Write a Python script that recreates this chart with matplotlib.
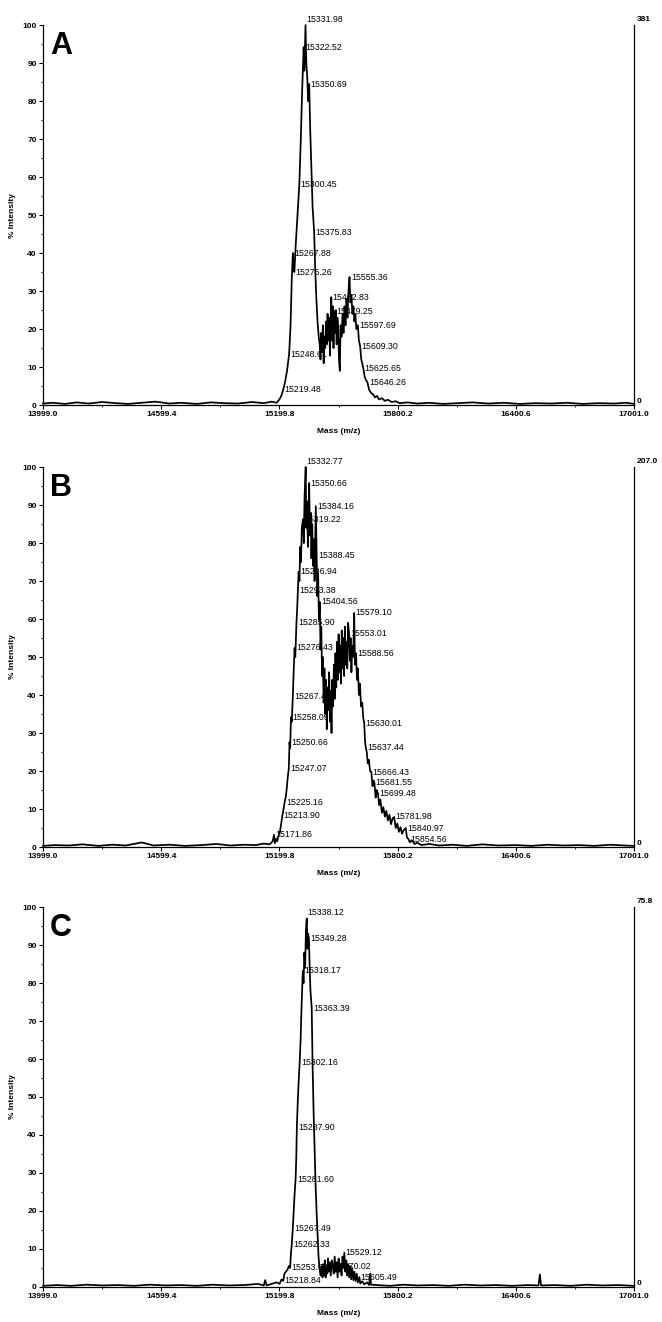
import numpy as np
import matplotlib.pyplot as plt

plt.rcParams['font.family'] = ['Liberation Sans', 'DejaVu Sans']

x_ticks = [13999.0, 14599.4, 15199.8, 15800.2, 16400.6, 17001.0]
y_ticks = [0, 10, 20, 30, 40, 50, 60, 70, 80, 90, 100]

# Spectrum A
mass_a = [13999, 14050, 14110, 14170, 14230, 14300, 14370, 14430, 14500, 14570, 14640, 14700,
          14780, 14850, 14920, 14990, 15060, 15120, 15160, 15185, 15195,
          15203, 15210, 15219.48, 15228, 15238, 15248.61, 15256, 15262, 15267.88, 15271, 15275.26,
          15282, 15290, 15300.45, 15308, 15315, 15322.52, 15326, 15331.98, 15336, 15341, 15345,
          15350.69, 15356, 15362, 15368, 15375.83, 15381, 15387, 15393, 15399,
          15404, 15408, 15412, 15416, 15420, 15424, 15428, 15432, 15436, 15440, 15444, 15448,
          15452, 15456, 15462.83, 15466, 15470, 15474, 15479.25, 15482, 15486, 15490, 15494,
          15498, 15502, 15506, 15510, 15515, 15520, 15525, 15530, 15535, 15540, 15545, 15550,
          15555.36, 15560, 15565, 15570, 15575, 15580, 15585, 15590, 15597.69, 15603, 15609.30,
          15615, 15620, 15625.65, 15632, 15640, 15646.26, 15655, 15665, 15675, 15685, 15695,
          15705, 15720, 15735, 15750, 15770, 15790, 15810, 15850, 15900, 15960, 16030, 16100,
          16180, 16260, 16340, 16420, 16500, 16580, 16660, 16740, 16820, 16900, 16960, 17001]
int_a = [0.4, 0.6, 0.3, 0.7, 0.4, 0.8, 0.5, 0.3, 0.6, 0.9, 0.4, 0.6,
         0.3, 0.7, 0.5, 0.4, 0.8, 0.5, 0.9, 0.6, 1.2,
         1.8, 2.6, 4.2, 6.0, 9.0, 13.4, 21.0, 33.0, 40.0, 37.0, 35.0,
         42.0, 49.0, 58.0, 70.0, 83.0, 94.2, 88.0, 100.0, 90.0, 86.0, 80.0,
         84.5, 72.0, 62.0, 52.0, 45.5, 36.0, 28.0, 22.0, 18.0,
         16.0, 12.0, 19.0, 14.0, 21.0, 11.0, 18.0, 15.0, 22.0, 16.0, 24.0, 17.0,
         23.0, 13.0, 28.4, 17.0, 26.0, 15.0, 24.7, 19.0, 25.0, 16.0, 23.0,
         20.0, 12.0, 9.0, 21.0, 18.0, 24.0, 19.0, 26.0, 21.0, 28.0, 23.0, 30.0,
         33.7, 27.0, 29.0, 24.0, 26.0, 22.0, 24.0, 20.0, 21.0, 17.0, 15.5,
         12.0, 11.0, 9.7, 7.5, 6.5, 6.0, 4.0, 3.2, 2.8, 2.0, 2.4,
         1.5, 1.8, 1.1, 1.4, 0.8, 1.0, 0.5, 0.7, 0.4, 0.6, 0.3, 0.5,
         0.7, 0.4, 0.6, 0.3, 0.5, 0.4, 0.6, 0.3, 0.5, 0.4, 0.6, 0.3]
peaks_a = [15331.98, 15322.52, 15350.69, 15300.45, 15375.83, 15267.88, 15275.26, 15462.83,
           15555.36, 15479.25, 15597.69, 15609.30, 15248.61, 15625.65, 15646.26, 15219.48]

# Spectrum B
mass_b = [13999, 14060, 14130, 14200, 14280, 14350, 14420, 14500, 14560, 14640, 14720, 14800,
          14880, 14950, 15020, 15080, 15120, 15150, 15165, 15171.86, 15176, 15182, 15188, 15195,
          15202, 15208, 15213.90, 15219, 15225.16, 15231, 15236, 15241, 15247.07, 15250.66, 15254,
          15258.09, 15262, 15267.41, 15271, 15276.43, 15280, 15285.90, 15289, 15293.38, 15296.94,
          15301, 15305, 15309, 15313, 15319.22, 15323, 15327, 15332.77, 15336, 15340, 15344,
          15350.66, 15354, 15358, 15362, 15366, 15370, 15374, 15378, 15384.16, 15388.45, 15392,
          15396, 15400, 15404.56, 15408, 15412,
          15416, 15420, 15424, 15428, 15432, 15436, 15440, 15444, 15448, 15452,
          15456, 15460, 15464, 15468, 15472, 15476, 15480, 15484, 15488, 15492,
          15496, 15500, 15504, 15508, 15512, 15516, 15520, 15524, 15528, 15532,
          15536, 15540, 15544, 15548,
          15553.01, 15557, 15561, 15565, 15569, 15574, 15579.10, 15583, 15588.56, 15593, 15598,
          15603, 15608, 15614, 15620, 15625, 15630.01, 15634, 15637.44, 15643, 15648, 15653,
          15660, 15666.43, 15672, 15677, 15681.55, 15688, 15693, 15699.48, 15706, 15712, 15720,
          15727, 15735, 15742, 15750, 15758, 15766, 15774, 15781.98, 15790, 15798, 15806, 15814,
          15822, 15830, 15840.97, 15847, 15854.56, 15862, 15872, 15885, 15900, 15920, 15960,
          16010, 16080, 16150, 16230, 16310, 16400, 16480, 16560, 16640, 16720, 16800, 16880,
          16950, 17001]
int_b = [0.3, 0.5, 0.4, 0.7, 0.3, 0.6, 0.4, 1.2, 0.4, 0.6, 0.3, 0.5,
         0.8, 0.4, 0.6, 0.5, 0.9, 0.7, 1.5, 3.2, 1.0, 2.2, 1.5, 3.0,
         4.0, 6.0, 8.2, 9.5, 11.6, 13.0, 15.0, 18.0, 20.7, 27.6, 26.0,
         34.2, 33.0, 39.5, 45.0, 52.4, 50.0, 59.0, 62.0, 67.6, 72.4,
         70.0, 79.0, 75.0, 84.0, 86.3, 80.0, 92.0, 100.0, 84.0, 91.0, 79.0,
         95.8, 82.0, 88.0, 76.0, 85.0, 74.0, 81.0, 70.0, 89.7, 76.8, 66.0,
         72.0, 60.0, 64.5, 52.0, 58.0,
         45, 50, 38, 47, 35, 44, 31, 42, 36, 46,
         33, 41, 30, 44, 37, 48, 39, 51, 42, 54,
         44, 56, 46, 53, 43, 57, 47, 55, 45, 58,
         48, 54, 47, 59,
         56.3, 49, 55, 46, 53, 50, 61.6, 48, 51.0, 44, 47,
         40, 43, 37, 38, 34, 32.6, 28, 26.3, 25, 22, 23,
         20, 19.7, 16, 17.5, 17.0, 13, 15, 14.2, 11, 12.5, 9,
         10.5, 8, 9.5, 7, 8.5, 6, 7.5, 7.9, 5, 6.2, 4, 5.2,
         3.5, 4.4, 5.0, 2.5, 2.1, 1.2, 1.8, 0.8, 1.1, 0.5, 0.8,
         0.4, 0.6, 0.3, 0.7, 0.4, 0.5, 0.3, 0.6, 0.4, 0.5, 0.3, 0.6,
         0.4, 0.3]
peaks_b = [15332.77, 15350.66, 15384.16, 15319.22, 15388.45, 15296.94, 15293.38, 15404.56,
           15285.90, 15276.43, 15579.10, 15553.01, 15588.56, 15267.41, 15258.09, 15250.66,
           15247.07, 15225.16, 15213.90, 15171.86, 15630.01, 15637.44, 15666.43, 15681.55,
           15699.48, 15781.98, 15840.97, 15854.56]

# Spectrum C
mass_c = [13999, 14070, 14140, 14220, 14300, 14380, 14460, 14540, 14620, 14700, 14780, 14860,
          14940, 15020, 15090, 15120, 15127, 15134, 15160, 15185, 15200, 15210, 15218.84, 15225,
          15232, 15240, 15247, 15253.62, 15258, 15262.33, 15267.49, 15272, 15276, 15281.60,
          15285, 15287.90, 15292, 15297, 15302.16, 15307, 15312, 15318.17, 15322, 15326, 15330,
          15334, 15338.12, 15342, 15345, 15349.28, 15353, 15357, 15363.39, 15368, 15373, 15378,
          15383, 15388, 15393, 15398, 15403, 15408, 15414, 15418, 15422, 15426, 15430, 15434,
          15438, 15442, 15446, 15450, 15455, 15460, 15465, 15470.02, 15475, 15480, 15485, 15490,
          15495, 15500, 15505, 15510, 15515, 15520, 15524, 15529.12, 15534, 15539, 15544, 15549,
          15554, 15559, 15564, 15569, 15575, 15580, 15586, 15592, 15598, 15605.49, 15610, 15620,
          15630, 15645, 15655, 15660, 15665, 15700, 15760, 15830, 15900, 15980, 16060, 16140,
          16220, 16300, 16380, 16460, 16515, 16522, 16528, 16600, 16680, 16760, 16840, 16920,
          17001]
int_c = [0.3, 0.5, 0.3, 0.6, 0.4, 0.5, 0.3, 0.6, 0.4, 0.5, 0.3, 0.6,
         0.4, 0.5, 0.8, 0.4, 1.8, 0.4, 0.8, 1.2, 0.8, 2.0, 1.6, 3.5,
         4.0, 4.5, 5.5, 5.0, 9.0, 11.3, 15.5, 20.0, 24.0, 28.4,
         34.0, 42.0, 48.0, 54.0, 59.0, 65.0, 74.0, 83.2, 80.0, 88.0, 84.0,
         94.0, 97.0, 89.0, 93.0, 91.8, 84.0, 78.0, 73.4, 58.0, 46.0, 36.0,
         27.0, 20.0, 14.0, 8.0, 5.0, 3.0, 5.5, 2.5, 6.0, 3.0, 7.0, 2.5,
         5.0, 3.5, 7.5, 4.0, 6.5, 3.0, 7.0, 5.5, 3.5, 8.0, 4.0, 6.5,
         2.5, 7.5, 4.0, 6.0, 3.0, 8.0, 5.0, 9.0, 4.0, 7.0, 3.0, 6.0,
         2.5, 5.5, 2.0, 5.0, 1.8, 4.0, 1.5, 3.5, 1.2, 2.6, 0.9, 1.5,
         0.7, 1.2, 0.5, 3.5, 0.6, 0.5, 0.3, 0.6, 0.4, 0.5, 0.3, 0.6,
         0.4, 0.5, 0.3, 0.5, 0.4, 3.3, 0.4, 0.5, 0.3, 0.6, 0.4, 0.5,
         0.3]
peaks_c = [15338.12, 15349.28, 15318.17, 15363.39, 15302.16, 15287.90, 15281.60, 15267.49,
           15262.33, 15529.12, 15253.62, 15470.02, 15605.49, 15218.84]

panel_letters = ['A', 'B', 'C']
full_scale = ['381', '207.0', '75.8']
spectra = [(mass_a, int_a, peaks_a), (mass_b, int_b, peaks_b), (mass_c, int_c, peaks_c)]

fig = plt.figure(figsize=(6.62, 13.22), dpi=100)
bottoms = [0.6936, 0.3593, 0.0265]

for (mass, inten, peaks), letter, fs, b in zip(spectra, panel_letters, full_scale, bottoms):
    ax = fig.add_axes([0.065, b, 0.893, 0.2874])
    ax.plot(mass, inten, color='black', lw=1.25, zorder=3, clip_on=False)
    ax.set_xlim(13999, 17001)
    ax.set_ylim(0, 100)

    ax.spines['top'].set_visible(False)
    for s in ['left', 'right', 'bottom']:
        ax.spines[s].set_linewidth(0.9)

    ax.set_xticks(x_ticks)
    ax.set_xticklabels(['%.1f' % t for t in x_ticks], fontsize=6, fontweight='bold')
    ax.set_xticks([(x_ticks[i] + x_ticks[i + 1]) / 2 for i in range(5)], minor=True)
    ax.set_yticks(y_ticks)
    ax.set_yticklabels([str(t) for t in y_ticks], fontsize=6, fontweight='bold')
    ax.set_yticks(range(5, 100, 10), minor=True)
    ax.tick_params(axis='both', which='major', length=3, width=0.8, pad=1.5)
    ax.tick_params(axis='both', which='minor', length=1.5, width=0.6)

    ax.set_xlabel('Mass (m/z)', fontsize=6, fontweight='bold')
    ax.xaxis.set_label_coords(0.5, -0.06)
    ax.set_ylabel('% Intensity', fontsize=6, fontweight='bold')
    ax.yaxis.set_label_coords(-0.045, 0.5)

    ax.text(0.012, 0.985, letter, transform=ax.transAxes, fontsize=22,
            fontweight='bold', ha='left', va='top')
    ax.text(1.004, 1.005, fs, transform=ax.transAxes, fontsize=6,
            fontweight='bold', ha='left', va='bottom')
    ax.text(1.004, 0.0, '0', transform=ax.transAxes, fontsize=6,
            fontweight='bold', ha='left', va='bottom')

    # peak labels sit at the apex of each labelled peak
    heights = [np.interp(p, mass, inten) for p in peaks]
    top = max(heights)
    for p, h in zip(peaks, heights):
        if h == top:
            ax.annotate('%.2f' % p, (p, h), xytext=(0.5, 1), textcoords='offset points',
                        ha='left', va='bottom', fontsize=6.3, zorder=2,
                        annotation_clip=False)
        else:
            ax.annotate('%.2f' % p, (p, h), xytext=(1, 0), textcoords='offset points',
                        ha='left', va='center', fontsize=6.3, zorder=2,
                        annotation_clip=False)

fig.savefig('out.png', dpi=100)
